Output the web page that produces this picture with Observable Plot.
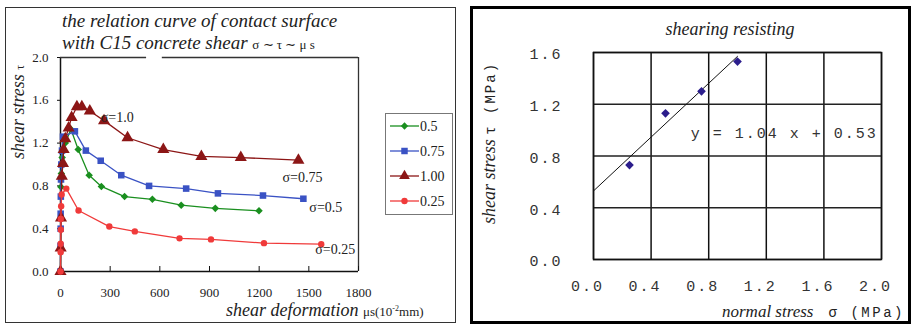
<!DOCTYPE html>
<html><head><meta charset="utf-8">
<script src="https://cdn.jsdelivr.net/npm/d3@7"></script>
<script src="https://cdn.jsdelivr.net/npm/@observablehq/plot@0.6"></script>
<style>
html,body{margin:0;padding:0;background:#fff;}
#root{position:relative;width:911px;height:324px;overflow:hidden;background:#fff;}
.abs{position:absolute;white-space:nowrap;line-height:1;color:#222;}
.serif{font-family:"Liberation Serif","Times New Roman",serif;}
.mono{font-family:"Liberation Mono","DejaVu Sans Mono",monospace;}
.it{font-style:italic;}
.box{position:absolute;box-sizing:border-box;}
.rot{transform:translate(-50%,-50%) rotate(-90deg);}
</style></head><body><div id="root"></div>
<script>
// ---------- Left chart data: shear stress (MPa) vs shear deformation (µs, 10^-2 mm)
const seriesNames = ["0.5", "0.75", "1.00", "0.25"];
const seriesColors = ["#1a8f1f", "#3a52c4", "#8c1616", "#f03a3a"];
const seriesSymbols = ["diamond2", "square", "triangle", "circle"];

const def05 = [0, 1, 2, 3, 5, 10, 29, 63, 107, 173, 247, 387, 555, 729, 935, 1199];
const tau05 = [0, 0.20, 0.50, 0.79, 0.915, 1.065, 1.20, 1.33, 1.14, 0.90, 0.795, 0.70, 0.675, 0.62, 0.59, 0.567];

const def075 = [0, 0, 1, 1, 2, 3, 5, 9, 15, 87, 153, 243, 367, 535, 759, 951, 1223, 1467];
const tau075 = [0, 0.24, 0.40, 0.54, 0.70, 0.86, 1.00, 1.13, 1.26, 1.31, 1.13, 1.035, 0.90, 0.80, 0.775, 0.73, 0.71, 0.68];

const def100 = [0, 1, 3, 8, 15, 19, 29, 49, 67, 99, 129, 177, 263, 405, 621, 851, 1089, 1437];
const tau100 = [0, 0.22, 0.50, 0.89, 1.01, 1.14, 1.24, 1.34, 1.44, 1.54, 1.54, 1.50, 1.41, 1.25, 1.14, 1.075, 1.065, 1.04];

const def025 = [0, 1, 1, 2, 2, 4, 7, 35, 109, 295, 449, 719, 909, 1229, 1575];
const tau025 = [0, 0.18, 0.26, 0.39, 0.49, 0.61, 0.72, 0.775, 0.57, 0.42, 0.375, 0.31, 0.30, 0.265, 0.255];

const xTicksL = [0, 300, 600, 900, 1200, 1500, 1800];
const yTicksL = [0, 0.4, 0.8, 1.2, 1.6, 2.0];

const annotText = ["σ=1.0", "σ=0.75", "σ=0.5", "σ=0.25"];
const annotX = [243, 1341, 1503, 1539];
const annotY = [1.436, 0.876, 0.595, 0.203];

// ---------- Right chart data: shearing resistance
const normalStress = [0.25, 0.5, 0.75, 1.0];
const shearStress = [0.73, 1.13, 1.30, 1.53];
const fitSlope = 1.04, fitIntercept = 0.53;
const fitRange = [0, 1.0];
const xTicksR = [0, 0.4, 0.8, 1.2, 1.6, 2.0];
const yTicksR = [0, 0.4, 0.8, 1.2, 1.6];
const eqLabel = "y = 1.04 x + 0.53";
const eqPos = {x: 0.676, y: 0.973};

// ---------- build left plot
const defs = [def05, def075, def100, def025];
const taus = [tau05, tau075, tau100, tau025];
const rows = [];
seriesNames.forEach((s, i) => defs[i].forEach((d, j) => rows.push({series: s, x: d, y: taus[i][j]})));
const dotR = {"0.5": 3.4, "0.75": 3.7, "1.00": 4.5, "0.25": 3.2};

const leftMarks = [
  Plot.ruleX([0], {stroke: "#111", strokeWidth: 1.5}),
  Plot.ruleY([0], {stroke: "#111", strokeWidth: 1.5}),
  Plot.ruleX([1800], {stroke: "#333", strokeWidth: 1.3}),
  Plot.ruleY([2.0], {x1: 0, x2: 520, stroke: "#333", strokeWidth: 1.3}),
  Plot.ruleY([2.0], {x1: 615, x2: 1800, stroke: "#333", strokeWidth: 1.3}),
  Plot.axisX({ticks: xTicksL, tickSize: -5, fill: "none", stroke: "#111"}),
  Plot.axisX({ticks: xTicksL, tickSize: 0, tickPadding: 16, tickFormat: d3.format("d"), label: null, fill: "#222"}),
  Plot.axisY({ticks: yTicksL, tickSize: 3, tickPadding: 9, tickFormat: d3.format(".1f"), label: null, fill: "#222", stroke: "#111"})
];
seriesNames.forEach((s, i) => {
  const data = rows.filter(r => r.series === s);
  leftMarks.push(Plot.line(data, {x: "x", y: "y", stroke: seriesColors[i], strokeWidth: 1.3}));
  leftMarks.push(Plot.dot(data, {x: "x", y: "y", symbol: seriesSymbols[i], fill: seriesColors[i], stroke: "none", r: dotR[s]}));
});
leftMarks.push(Plot.text(annotText, {x: annotX, y: annotY, text: d => d, textAnchor: "start", fontSize: 14, fill: "#222"}));

const leftPlot = Plot.plot({
  width: 460, height: 324,
  marginLeft: 60, marginRight: 102, marginTop: 57, marginBottom: 53,
  style: {fontFamily: "Liberation Serif", fontSize: "13px", background: "transparent", color: "#222", overflow: "visible"},
  x: {domain: [0, 1800]},
  y: {domain: [0, 2]},
  marks: leftMarks
});
leftPlot.style.position = "absolute";
leftPlot.style.left = "0px";
leftPlot.style.top = "0px";

// ---------- build right plot
const pts = normalStress.map((x, i) => ({x, y: shearStress[i]}));
const fit = fitRange.map(x => ({x, y: fitSlope * x + fitIntercept}));
const rightPlot = Plot.plot({
  width: 451, height: 324,
  marginLeft: 133, marginRight: 30, marginTop: 52, marginBottom: 65,
  style: {fontFamily: "Liberation Mono", fontSize: "15px", letterSpacing: "2px", background: "transparent", color: "#222", overflow: "visible"},
  x: {domain: [0, 2]},
  y: {domain: [0, 1.6]},
  marks: [
    Plot.gridX(xTicksR, {stroke: "#111", strokeOpacity: 1, strokeWidth: 1.5}),
    Plot.gridY(yTicksR, {stroke: "#222", strokeOpacity: 1, strokeWidth: 1.3}),
    Plot.frame({stroke: "#111", strokeWidth: 1.5}),
    Plot.axisX({ticks: xTicksR, tickSize: 0, tickPadding: 21, dx: -6, tickFormat: d3.format(".1f"), label: null, fill: "#333"}),
    Plot.axisY({ticks: yTicksR, tickSize: 0, tickPadding: 31, dy: 2, tickFormat: d3.format(".1f"), label: null, fill: "#333"}),
    Plot.line(fit, {x: "x", y: "y", stroke: "#111", strokeWidth: 1}),
    Plot.dot(pts, {x: "x", y: "y", symbol: "diamond2", fill: "#2b1d8c", stroke: "none", r: 3.9}),
    Plot.text([eqLabel], {x: [eqPos.x], y: [eqPos.y], text: d => d, textAnchor: "start", fill: "#333"})
  ]
});
rightPlot.style.position = "absolute";
rightPlot.style.left = "460px";
rightPlot.style.top = "0px";

// ---------- assemble
const root = document.getElementById("root");
root.insertAdjacentHTML("beforeend", `
  <div class="box" style="left:5px;top:7px;width:451px;height:316px;border:1.5px solid #333;"></div>
  <div class="box" style="left:470px;top:6px;width:441px;height:318px;border:3px solid #000;"></div>
`);
root.appendChild(leftPlot);
root.appendChild(rightPlot);
root.insertAdjacentHTML("beforeend", `
  <div class="abs serif it" style="left:62px;top:11px;font-size:19px;">the relation curve of contact surface</div>
  <div class="abs serif it" style="left:62px;top:33px;font-size:19px;">with C15 concrete shear <span style="font-style:normal;font-size:13px;">σ ∼ τ ∼ μ s</span></div>
  <div class="abs serif it rot" style="left:18px;top:112px;font-size:18px;">shear stress <span style="font-style:normal;font-size:12px;">τ</span></div>
  <div class="abs serif it" style="left:226px;top:301px;font-size:18px;">shear deformation <span style="font-style:normal;font-size:13px;">μs(10<span style="font-size:8px;vertical-align:5px;">-2</span>mm)</span></div>

  <div class="abs serif it" style="left:730px;top:20px;font-size:18px;transform:translateX(-50%);">shearing resisting</div>
  <div class="abs serif it" style="left:722px;top:303px;font-size:17px;">normal stress <span class="mono" style="font-style:normal;font-size:14px;letter-spacing:2.5px;">&nbsp;σ (MPa)</span></div>
  <div class="abs serif it rot" style="left:489px;top:143px;font-size:18px;">shear stress <span class="mono" style="font-style:normal;font-size:14px;letter-spacing:2px;">τ (MPa)</span></div>
`);

// legend
const leg = document.createElement("div");
leg.className = "box";
leg.style.cssText = "left:385px;top:113px;width:68px;height:102px;border:1.5px solid #777;background:#fff;";
root.appendChild(leg);
const lsvg = d3.select(leg).append("svg").attr("width", 66).attr("height", 99).style("position", "absolute").style("left", "0").style("top", "0");
const symMap = {diamond2: d3.symbolDiamond2, square: d3.symbolSquare, triangle: d3.symbolTriangle, circle: d3.symbolCircle};
const symSize = {diamond2: 34, square: 42, triangle: 50, circle: 32};
seriesNames.forEach((s, i) => {
  const y = 12 + i * 25;
  const g = lsvg.append("g");
  g.append("line").attr("x1", 4).attr("x2", 33).attr("y1", y).attr("y2", y).attr("stroke", seriesColors[i]).attr("stroke-width", 1.3);
  g.append("path").attr("d", d3.symbol(symMap[seriesSymbols[i]], symSize[seriesSymbols[i]])()).attr("transform", `translate(18.5,${y})`).attr("fill", seriesColors[i]);
  g.append("text").attr("x", 34).attr("y", y).attr("dy", "0.35em").attr("font-family", "Liberation Serif").attr("font-size", 14).attr("fill", "#222").text(s);
});
</script></body></html>
